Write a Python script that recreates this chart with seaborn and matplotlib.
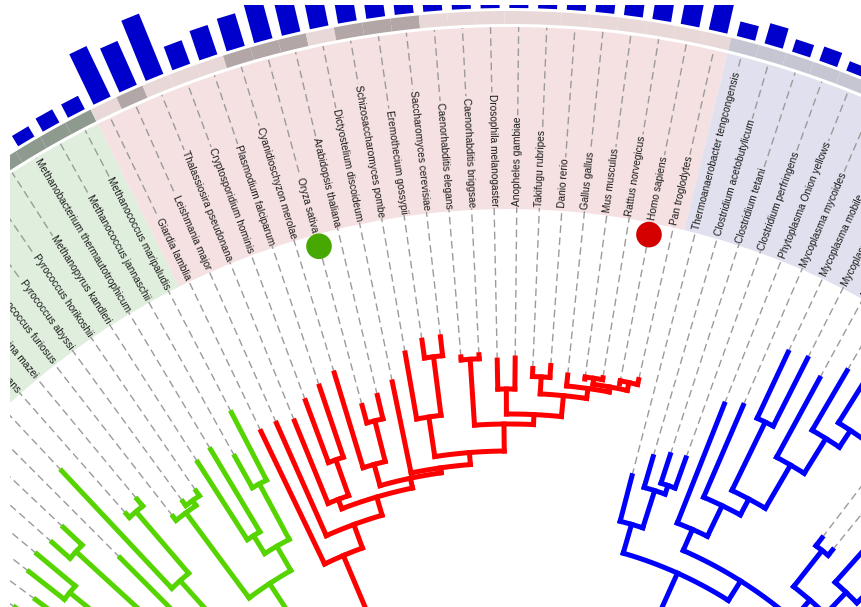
import numpy as np
import matplotlib
matplotlib.use("Agg")
import matplotlib.pyplot as plt
from matplotlib.patches import Wedge, Polygon
from matplotlib.collections import LineCollection
import seaborn as sns
import pandas as pd

# ---------------- data ----------------
archaea_names = ["Sulfolobus solfataricus", "Sulfolobus tokodaii", "Aeropyrum pernix",
                 "Pyrobaculum aerophilum", "Thermoplasma volcanium", "Thermoplasma acidophilum",
                 "Nanoarchaeum equitans", "Archaeoglobus fulgidus", "Methanosarcina acetivorans",
                 "Methanosarcina mazei", "Pyrococcus furiosus", "Pyrococcus abyssi",
                 "Pyrococcus horikoshii", "Methanopyrus kandleri",
                 "Methanobacterium thermautotrophicum", "Methanococcus jannaschii",
                 "Methanococcus maripaludis"]
archaea_tip = [600, 588, 610, 615, 611, 613, 551, 654, 579, 583, 547, 553, 554, 577, 581, 563, 603]
archaea_bar = [14, 14, 14, 14, 14, 14, 14, 14, 14, 14, 14, 14, 14, 14, 12, 15, 15]

euk_names = ["Giardia lamblia", "Leishmania major", "Thalassiosira pseudonana",
             "Cryptosporidium hominis", "Plasmodium falciparum", "Cyanidioschyzon merolae",
             "Oryza sativa", "Arabidopsis thaliana", "Dictyostelium discoideum",
             "Schizosaccharomyces pombe", "Eremothecium gossypii", "Saccharomyces cerevisiae",
             "Caenorhabditis elegans", "Caenorhabditis briggsae", "Drosophila melanogaster",
             "Anopheles gambiae", "Takifugu rubripes", "Danio rerio", "Gallus gallus",
             "Mus musculus", "Rattus norvegicus", "Homo sapiens", "Pan troglodytes"]
euk_tip = [573, 574, 569, 584, 593, 601, 562, 568, 578, 604, 614, 615, 593, 594, 588, 590,
           580, 584, 576, 574, 578, 575, 583]
euk_bar = [56, 48, 65, 25, 31, 34, 45, 45, 45, 45, 45, 45, 45, 45, 45, 45, 45, 45, 45, 45,
           40, 40, 40]
euk_strip_dark = [0, 1, 0, 0, 0, 1, 1, 1, 0, 1, 1, 1, 0, 0, 0, 0, 0, 0, 0, 0, 0, 0, 0]

bact_names = ["Thermoanaerobacter tengcongensis", "Clostridium acetobutylicum",
              "Clostridium tetani", "Clostridium perfringens", "Phytoplasma Onion yellows",
              "Mycoplasma mycoides", "Mycoplasma mobile", "Mycoplasma pulmonis",
              "Mycoplasma penetrans", "Ureaplasma parvum", "Mycoplasma gallisepticum",
              "Mycoplasma genitalium", "Mycoplasma pneumoniae", "Listeria innocua",
              "Listeria monocytogenes", "Staphylococcus aureus", "Staphylococcus epidermidis",
              "Bacillus subtilis", "Bacillus halodurans"]
bact_tip = [488, 512, 519, 521, 585, 591, 658, 661, 649, 669, 670, 650, 640, 516, 513,
            560, 565, 540, 545]
bact_bar = [15, 21, 13, 15, 10, 10, 10, 10, 10, 10, 10, 10, 10, 10, 10, 10, 10, 10, 10]

arch_tree = ("((((Sulfolobus solfataricus,Sulfolobus tokodaii):520,"
             "(Aeropyrum pernix,Pyrobaculum aerophilum):565):430,"
             "(Thermoplasma volcanium,Thermoplasma acidophilum):587):400,"
             "((Nanoarchaeum equitans,(Archaeoglobus fulgidus,"
             "(Methanosarcina acetivorans,Methanosarcina mazei):574):493):420,"
             "((Pyrococcus furiosus,(Pyrococcus abyssi,Pyrococcus horikoshii):548):542,"
             "((Methanopyrus kandleri,Methanobacterium thermautotrophicum):485,"
             "(Methanococcus jannaschii,Methanococcus maripaludis):527):464):436):405):330")
euk_tree = ("(Giardia lamblia,(Leishmania major,((Thalassiosira pseudonana,"
            "(Cryptosporidium hominis,Plasmodium falciparum):518):480,"
            "((Cyanidioschyzon merolae,(Oryza sativa,Arabidopsis thaliana):544):502,"
            "(Dictyostelium discoideum,((Schizosaccharomyces pombe,"
            "(Eremothecium gossypii,Saccharomyces cerevisiae):596):537,"
            "((Caenorhabditis elegans,Caenorhabditis briggsae):590,"
            "((Drosophila melanogaster,Anopheles gambiae):559,"
            "((Takifugu rubripes,Danio rerio):572,(Gallus gallus,"
            "((Mus musculus,Rattus norvegicus):576,(Homo sapiens,Pan troglodytes):578):570"
            "):565):555):534):524):497):485):480):470):451):426")
bact_tree = ("((Thermoanaerobacter tengcongensis,(Clostridium acetobutylicum,"
             "(Clostridium tetani,Clostridium perfringens):489):480):441,"
             "((Phytoplasma Onion yellows,(Mycoplasma mycoides,"
             "((Mycoplasma mobile,Mycoplasma pulmonis):585,(Mycoplasma penetrans,"
             "(Ureaplasma parvum,(Mycoplasma gallisepticum,(Mycoplasma genitalium,"
             "Mycoplasma pneumoniae):640):620):600):559):509):491):457,"
             "((Listeria innocua,Listeria monocytogenes):506,"
             "((Staphylococcus aureus,Staphylococcus epidermidis):540,"
             "(Bacillus subtilis,Bacillus halodurans):520):490):460):434):411")

marked = pd.DataFrame({"leaf": ["Oryza sativa", "Homo sapiens"],
                       "group": ["plant", "human"]})

# ---------------- geometry / style ----------------
CX, CY = 509.0, -341.0
THETA_FIRST, STEP = -55.4, 1.75
R_RANGE_IN, R_RANGE_OUT = 739, 921
R_LABEL = 742
R_STRIP0, R_STRIP1 = 924, 937
R_BAR0 = 940
R_MARK = 727
ROOT_R = 330

clade_cols = {"arch": "#56d400", "euk": "#ff0000", "bact": "#0000ff"}
range_cols = {"arch": "#dfeedd", "euk": "#f5e1e2", "bact": "#e0e0ee"}
strip_cols = {"arch": "#8f9a8f", "euk0": "#e8d8d8", "euk1": "#b3a6a6", "bact": "#c6c6d3"}

names = archaea_names + euk_names + bact_names
clade = ["arch"] * len(archaea_names) + ["euk"] * len(euk_names) + ["bact"] * len(bact_names)
tips = archaea_tip + euk_tip + bact_tip
bars = archaea_bar + euk_bar + bact_bar
strip = (["arch"] * len(archaea_names) + ["euk%d" % d for d in euk_strip_dark]
         + ["bact"] * len(bact_names))
theta = THETA_FIRST + STEP * np.arange(len(names))
idx = {n: i for i, n in enumerate(names)}


def pol(th, r):
    ph = np.radians(90.0 - np.asarray(th, dtype=float))
    return CX + r * np.cos(ph), CY + r * np.sin(ph)


def parse(s):
    pos = 0

    def node():
        nonlocal pos
        if s[pos] == "(":
            pos += 1
            kids = [node()]
            while s[pos] == ",":
                pos += 1
                kids.append(node())
            pos += 1  # ')'
            r = None
            if pos < len(s) and s[pos] == ":":
                pos += 1
                j = pos
                while pos < len(s) and s[pos] not in ",)":
                    pos += 1
                r = float(s[j:pos])
            return {"kids": kids, "r": r}
        j = pos
        while pos < len(s) and s[pos] not in ",):":
            pos += 1
        return {"name": s[j:pos].strip()}
    return node()


def layout(n):
    if "name" in n:
        i = idx[n["name"]]
        n["th"], n["rad"] = theta[i], tips[i]
    else:
        for c in n["kids"]:
            layout(c)
        n["th"] = 0.5 * (n["kids"][0]["th"] + n["kids"][-1]["th"])
        n["rad"] = n["r"]


def collect(n, segs):
    if "kids" not in n:
        return
    a0, a1 = n["kids"][0]["th"], n["kids"][-1]["th"]
    m = max(2, int(abs(a1 - a0) / 0.2) + 2)
    xs, ys = pol(np.linspace(a0, a1, m), n["rad"])
    segs.append(np.column_stack([xs, ys]))
    for c in n["kids"]:
        xs, ys = pol([c["th"], c["th"]], np.array([n["rad"], c["rad"]]))
        segs.append(np.column_stack([xs, ys]))
        collect(c, segs)


# ---------------- figure ----------------
sns.set_theme(style="white")
plt.rcParams["font.family"] = ["Liberation Sans", "DejaVu Sans"]
fig = plt.figure(figsize=(8.62, 6.07), dpi=100)
ax = fig.add_axes([10 / 862, 0, 852 / 862, 602 / 607])
ax.set_xlim(10, 862)
ax.set_ylim(0, 602)
ax.axis("off")

# colored ranges
for c in ["arch", "euk", "bact"]:
    th_c = theta[[k for k in range(len(names)) if clade[k] == c]]
    lo, hi = th_c.min() - STEP / 2, th_c.max() + STEP / 2
    ax.add_patch(Wedge((CX, CY), R_RANGE_OUT, 90 - hi, 90 - lo,
                       width=R_RANGE_OUT - R_RANGE_IN, facecolor=range_cols[c],
                       edgecolor="none", zorder=1))

# color strip
for k in range(len(names)):
    ax.add_patch(Wedge((CX, CY), R_STRIP1, 90 - theta[k] - STEP / 2, 90 - theta[k] + STEP / 2,
                       width=R_STRIP1 - R_STRIP0, facecolor=strip_cols[strip[k]],
                       edgecolor="none", zorder=1))

# bars
BW = 19.0
for k in range(len(names)):
    ph = np.radians(90 - theta[k])
    u = np.array([np.cos(ph), np.sin(ph)])
    t = np.array([np.sin(ph), -np.cos(ph)])
    c0 = np.array([CX, CY]) + R_BAR0 * u
    c1 = np.array([CX, CY]) + (R_BAR0 + bars[k]) * u
    poly = [c0 - t * BW / 2, c0 + t * BW / 2, c1 + t * BW / 2, c1 - t * BW / 2]
    ax.add_patch(Polygon(poly, closed=True, facecolor="#0000cc", edgecolor="none", zorder=2))

# dashed leaf connectors
dash_segs = []
for k in range(len(names)):
    xs, ys = pol([theta[k], theta[k]], np.array([tips[k], R_RANGE_OUT]))
    dash_segs.append(np.column_stack([xs, ys]))
ax.add_collection(LineCollection(dash_segs, colors="#9b9b9b", linewidths=1.0,
                                 linestyles=[(0, (5.5, 3.2))], zorder=3))

# labels
for k in range(len(names)):
    ph = 90 - theta[k]
    x, y = pol(theta[k], R_LABEL)
    if ph <= 90:
        rot, ha = ph, "left"
    else:
        rot, ha = ph - 180, "right"
    ax.text(x, y, names[k], rotation=rot, rotation_mode="anchor", ha=ha, va="center",
            fontsize=7.3, color="#1a1a1a", zorder=4, clip_on=True,
            bbox=dict(boxstyle="square,pad=0.12", facecolor=range_cols[clade[k]],
                      edgecolor="none"))

# tree branches
for tree_str, c in [(arch_tree, "arch"), (euk_tree, "euk"), (bact_tree, "bact")]:
    root = parse(tree_str)
    layout(root)
    segs = []
    collect(root, segs)
    xs, ys = pol([root["th"], root["th"]], np.array([ROOT_R, root["rad"]]))
    segs.append(np.column_stack([xs, ys]))
    ax.add_collection(LineCollection(segs, colors=clade_cols[c], linewidths=3.6,
                                     capstyle="projecting", joinstyle="miter", zorder=5))

# leaf markers
mx, my = pol(theta[[idx[n] for n in marked["leaf"]]], R_MARK)
marked["x"], marked["y"] = mx, my
sns.scatterplot(data=marked, x="x", y="y", hue="group",
                palette={"plant": "#46a800", "human": "#d40000"}, s=340,
                edgecolor="none", legend=False, ax=ax, zorder=6)
ax.set_xlim(10, 862)
ax.set_ylim(0, 602)
ax.set_xlabel("")
ax.set_ylabel("")

fig.savefig("out.png", dpi=100, facecolor="white")
